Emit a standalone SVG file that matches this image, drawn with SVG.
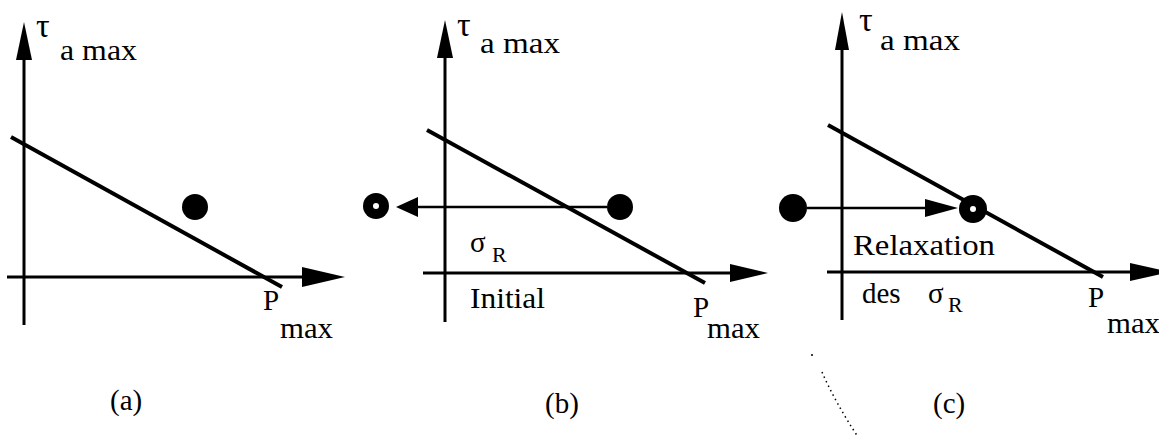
<svg xmlns="http://www.w3.org/2000/svg" width="1159" height="437" viewBox="0 0 1159 437">
<style>
  .ax { stroke:#000; stroke-width:3; fill:none; }
  .env { stroke:#000; stroke-width:4; fill:none; stroke-linecap:butt; }
  .ar { stroke:#000; stroke-width:2.5; fill:none; }
  .ah { fill:#000; stroke:none; }
  .dot { fill:#000; }
  .hole { fill:#fff; }
  text { font-family:"Liberation Serif", "Times New Roman", Tinos, "Noto Serif", "DejaVu Serif", Times, serif; fill:#000; }
  .t { font-size:29px; }
  .tau { font-size:34px; }
  .sub { font-size:22px; }
  .noise { stroke:#000; stroke-width:1.5; fill:none; stroke-dasharray:1.5 3.5; }
</style>
<rect width="1159" height="437" fill="#fff"/>

<!-- Panel (a) -->
<g id="panel-a">
  <g id="a-axes">
    <line class="ax" x1="24" y1="50" x2="24" y2="325"/>
    <polygon class="ah" points="24,22 16,60 32,60"/>
    <line class="ax" x1="7" y1="277" x2="305" y2="277"/>
    <polygon class="ah" points="345,277 302,267 302,287"/>
  </g>
  <g id="a-envelope"><line class="env" x1="11" y1="137" x2="282" y2="287"/></g>
  <g id="a-point"><circle class="dot" cx="195" cy="207" r="13"/></g>
  <g id="a-labels">
    <text class="tau" x="36" y="37">τ</text>
    <text class="t" x="60" y="60" textLength="77" lengthAdjust="spacingAndGlyphs">a max</text>
    <text class="t" x="263" y="310">P</text>
    <text class="t" x="280" y="338" textLength="53" lengthAdjust="spacingAndGlyphs">max</text>
    <text class="t" x="110" y="410">(a)</text>
  </g>
</g>

<!-- Panel (b) -->
<g id="panel-b">
  <g id="b-axes">
    <line class="ax" x1="445" y1="50" x2="445" y2="322"/>
    <polygon class="ah" points="445,20 437,58 453,58"/>
    <line class="ax" x1="423" y1="273" x2="732" y2="273"/>
    <polygon class="ah" points="768,273 730,264 730,282"/>
  </g>
  <g id="b-envelope"><line class="env" x1="427" y1="130" x2="705" y2="283"/></g>
  <g id="b-initial"><circle class="dot" cx="620" cy="207" r="13"/></g>
  <g id="b-final">
    <circle class="dot" cx="376" cy="206" r="13"/>
    <circle class="hole" cx="376" cy="206" r="3"/>
  </g>
  <g id="b-labels">
    <text class="tau" x="457" y="36">τ</text>
    <text class="t" x="480" y="53" textLength="80" lengthAdjust="spacingAndGlyphs">a max</text>
    <text class="t" x="470" y="252">σ</text>
    <text class="sub" x="492" y="262">R</text>
    <text class="t" x="470" y="308" textLength="75" lengthAdjust="spacingAndGlyphs">Initial</text>
    <text class="t" x="693" y="317">P</text>
    <text class="t" x="707" y="338" textLength="53" lengthAdjust="spacingAndGlyphs">max</text>
    <text class="t" x="545" y="413">(b)</text>
  </g>
</g>

<!-- Panel (c) -->
<g id="panel-c">
  <g id="c-axes">
    <line class="ax" x1="842" y1="40" x2="842" y2="320"/>
    <polygon class="ah" points="842,12 835,50 849,50"/>
    <line class="ax" x1="827" y1="272" x2="1132" y2="272"/>
    <polygon class="ah" points="1170,272 1130,263 1130,281"/>
  </g>
  <g id="c-envelope"><line class="env" x1="828" y1="125" x2="1103" y2="277"/></g>
  <g id="c-initial"><circle class="dot" cx="793" cy="208" r="14"/></g>
  <g id="c-final">
    <circle class="dot" cx="973" cy="209" r="14"/>
    <circle class="hole" cx="973" cy="209" r="3"/>
  </g>
  <g id="c-labels">
    <text class="tau" x="859" y="31">τ</text>
    <text class="t" x="880" y="50" textLength="80" lengthAdjust="spacingAndGlyphs">a max</text>
    <text class="t" x="853" y="255" textLength="142" lengthAdjust="spacingAndGlyphs">Relaxation</text>
    <text class="t" x="862" y="303">des</text>
    <text class="t" x="928" y="303">σ</text>
    <text class="sub" x="948" y="312">R</text>
    <text class="t" x="1088" y="307">P</text>
    <text class="t" x="1107" y="333" textLength="53" lengthAdjust="spacingAndGlyphs">max</text>
    <text class="t" x="933" y="413">(c)</text>
  </g>
  <g id="c-marks">
    <circle class="dot" cx="812" cy="355" r="1"/>
    <path class="noise" d="M822,372 Q835,402 858,437"/>
  </g>
</g>

<!-- Connectors -->
<g id="connectors">
  <line class="ar" x1="607" y1="207" x2="415" y2="207"/>
  <polygon class="ah" points="396,207 418,197 418,217"/>
  <line class="ar" x1="807" y1="208" x2="927" y2="208"/>
  <polygon class="ah" points="958,208 925,199 925,217"/>
</g>
</svg>
